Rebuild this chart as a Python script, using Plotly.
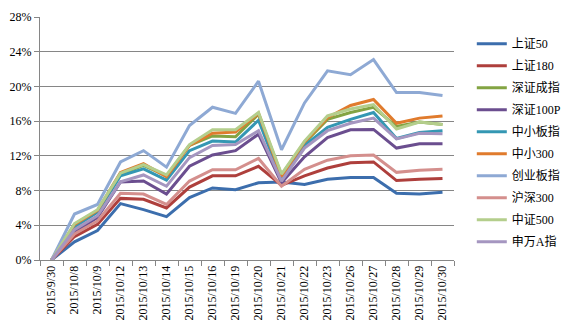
import plotly.graph_objects as go

dates = ["2015/9/30", "2015/10/8", "2015/10/9", "2015/10/12", "2015/10/13", "2015/10/14",
         "2015/10/15", "2015/10/16", "2015/10/19", "2015/10/20", "2015/10/21", "2015/10/22",
         "2015/10/23", "2015/10/26", "2015/10/27", "2015/10/28", "2015/10/29", "2015/10/30"]

sz50 = [0, 2.1, 3.4, 6.5, 5.8, 5.0, 7.2, 8.3, 8.1, 8.9, 9.0, 8.7, 9.3, 9.5, 9.5, 7.7, 7.6, 7.8]
sz180 = [0, 2.7, 4.1, 7.1, 7.0, 6.0, 8.4, 9.7, 9.7, 10.8, 8.6, 9.7, 10.6, 11.2, 11.3, 9.15, 9.3, 9.4]
szcz = [0, 4.0, 5.6, 9.9, 10.9, 9.7, 13.2, 14.3, 14.2, 16.8, 9.8, 13.5, 16.2, 17.0, 17.6, 15.4, 15.9, 15.6]
sz100p = [0, 3.2, 4.9, 9.0, 9.1, 7.6, 10.8, 12.1, 12.6, 14.5, 8.9, 11.9, 14.1, 15.0, 15.05, 12.9, 13.4, 13.4]
zxbz = [0, 3.8, 5.5, 9.7, 10.5, 9.2, 12.6, 13.7, 13.6, 16.1, 9.3, 13.2, 15.3, 16.2, 17.0, 14.0, 14.7, 14.9]
zx300 = [0, 4.1, 5.7, 10.1, 11.1, 9.6, 13.2, 14.6, 14.75, 16.9, 9.6, 13.6, 16.4, 17.8, 18.5, 15.75, 16.35, 16.6]
cybz = [0, 5.3, 6.4, 11.3, 12.6, 10.7, 15.5, 17.6, 16.9, 20.6, 12.7, 18.1, 21.8, 21.35, 23.1, 19.3, 19.3, 18.96]
hs300 = [0, 3.0, 4.5, 7.7, 7.6, 6.4, 9.1, 10.4, 10.4, 11.7, 8.5, 10.45, 11.5, 12.0, 12.1, 10.1, 10.35, 10.45]
zz500 = [0, 4.2, 5.8, 10.0, 11.0, 9.8, 13.3, 15.0, 15.0, 17.0, 9.9, 13.7, 16.6, 17.4, 17.9, 15.1, 15.9, 15.6]
swa = [0, 3.5, 5.1, 9.0, 9.8, 8.5, 11.8, 13.2, 13.3, 14.9, 9.1, 12.9, 14.9, 15.75, 16.35, 13.95, 14.6, 14.55]

series_names = ["上证50", "上证180", "深证成指", "深证100P", "中小板指", "中小300", "创业板指", "沪深300", "中证500", "申万A指"]
series_values = [sz50, sz180, szcz, sz100p, zxbz, zx300, cybz, hs300, zz500, swa]
colors = ["#3C6EAD", "#AE3F3C", "#83A443", "#6B4E8F", "#3497B3", "#E07B2D", "#8EA9D4", "#D48F8D", "#B4CE8C", "#A596C0"]

font_fam = "Liberation Serif, Noto Sans CJK SC, serif"

fig = go.Figure()
for name, vals, col in zip(series_names, series_values, colors):
    fig.add_trace(go.Scatter(x=dates, y=vals, name=name, mode="lines",
                             line=dict(color=col, width=3), legendgroup=name))

fig.update_layout(
    width=576, height=334,
    margin=dict(l=39, r=101, t=10, b=74),
    paper_bgcolor="white", plot_bgcolor="white",
    font=dict(family=font_fam, size=12, color="#000000"),
    showlegend=True,
    legend=dict(x=1.043, y=0.95, xanchor="left", yanchor="top",
                font=dict(family=font_fam, size=12, color="#000000"),
                tracegroupgap=3, itemwidth=30, bgcolor="rgba(0,0,0,0)"),
)
fig.update_xaxes(type="category", range=[-0.5, 17.5], tickangle=-90,
                 showline=True, linecolor="#868686", linewidth=1,
                 ticks="outside", tickson="boundaries", ticklen=5, tickcolor="#868686",
                 showgrid=False, tickfont=dict(family=font_fam, size=12), fixedrange=True)
fig.update_yaxes(range=[0, 28], dtick=4, ticksuffix="%",
                 showline=True, linecolor="#868686", linewidth=1,
                 ticks="outside", ticklen=5, tickcolor="#868686",
                 showgrid=True, gridcolor="#868686", gridwidth=1, zeroline=False,
                 tickfont=dict(family=font_fam, size=12), fixedrange=True)

fig.write_html("out.html")
